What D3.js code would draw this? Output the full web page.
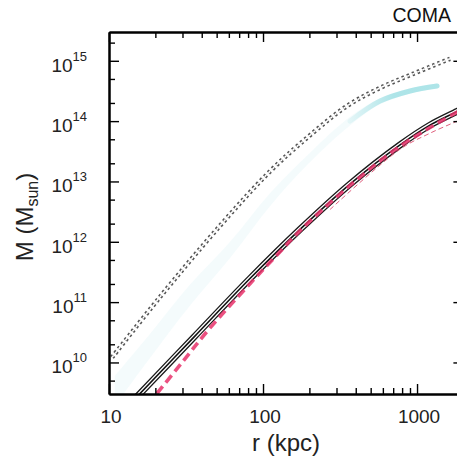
<!DOCTYPE html>
<html>
<head>
<meta charset="utf-8">
<script src="https://cdn.jsdelivr.net/npm/d3@7"></script>
<style>
  html, body { margin: 0; padding: 0; background: #fff; }
  svg { display: block; font-family: "Liberation Sans", Arial, Helvetica, sans-serif; }
</style>
</head>
<body>
<svg id="chart" width="457" height="463"></svg>
<script>
// ---- data (r in kpc, M in solar masses) ----
const xMajor = [10, 100, 1000];
const xMinor = [20, 30, 40, 50, 60, 70, 80, 90, 200, 300, 400, 500, 600, 700, 800, 900];
const yMajor = [1e10, 1e11, 1e12, 1e13, 1e14, 1e15];
const yMinor = [5e9, 2e10, 5e10, 2e11, 5e11, 2e12, 5e12, 2e13, 5e13, 2e14, 5e14, 2e15];
const xTickLabels = ["10", "100", "1000"];
const yTickExponents = ["10", "11", "12", "13", "14", "15"];

// solid model curve
const solidR = [14, 15.66, 35.6, 82.3, 174, 367, 776, 1213, 1820, 2000];
const solidM = [2.17e9, 2.93e9, 2.63e10, 2.46e11, 1.61e12, 9.05e12, 4.04e13, 8.58e13, 1.45e14, 1.65e14];

// thick red dashed curve
const redR = [18, 20.2, 30, 44, 82, 120, 174, 367, 776, 1820, 2000];
const redM = [2.03e9, 2.93e9, 1.02e10, 3.42e10, 2.0e11, 5.62e11, 1.53e12, 8.58e12, 3.83e13, 1.41e14, 1.58e14];

// thin red dashed curve
const thinRedR = [272, 776, 1213, 1820, 2000];
const thinRedM = [3.42e12, 3.42e13, 6.3e13, 1.0e14, 1.12e14];

// dotted (double) curve
const dotR = [10.46, 21.4, 52.6, 111, 202, 351, 575, 942, 1637];
const dotM = [1.21e10, 1.21e11, 1.85e12, 1.47e13, 5.84e13, 1.78e14, 3.55e14, 6.07e14, 1.08e15];

// cyan band
const cyanR  = [10.9, 18.5, 33.6, 61.1, 111, 202, 367, 575, 901, 1349];
const cyanM  = [3.42e9, 1.92e10, 1.31e11, 7.36e11, 5.01e12, 2.51e13, 1.0e14, 2.15e14, 3.16e14, 3.83e14];
const cyanLo = [1.9e9, 1.2e10, 8.8e10, 5.4e11, 3.9e12, 2.1e13, 8.5e13, 1.9e14, 2.85e14, 3.5e14];
const cyanHi = [6.0e9, 3.0e10, 1.95e11, 1.0e12, 6.4e12, 3.0e13, 1.18e14, 2.4e14, 3.5e14, 4.2e14];

// ---- layout ----
const L = 109, R = 463.4, T = 32, B = 394;
const svg = d3.select("#chart");
const x = d3.scaleLog().domain([10, 2000]).range([L, R]);
const y = d3.scaleLog().domain([3e9, 3e15]).range([B, T]);

const defs = svg.append("defs");
defs.append("clipPath").attr("id", "plotclip")
  .append("rect").attr("x", L).attr("y", T).attr("width", R - L).attr("height", B - T);
const grad = defs.append("linearGradient").attr("id", "cyanfade")
  .attr("gradientUnits", "userSpaceOnUse")
  .attr("x1", x(300)).attr("x2", x(700)).attr("y1", 0).attr("y2", 0);
grad.append("stop").attr("offset", 0).attr("stop-color", "#a6e2e6").attr("stop-opacity", 0);
grad.append("stop").attr("offset", 1).attr("stop-color", "#a6e2e6").attr("stop-opacity", 0.9);

const g = svg.append("g").attr("clip-path", "url(#plotclip)");
const zip = (a, b) => a.map((v, i) => [v, b[i]]);
const line = d3.line().x(d => x(d[0])).y(d => y(d[1])).curve(d3.curveCatmullRom.alpha(0.5));

// cyan band
const cyanBand = cyanR.map((r, i) => ({ r, lo: cyanLo[i], hi: cyanHi[i] }));
g.append("path")
  .attr("d", d3.area().x(d => x(d.r)).y0(d => y(d.lo)).y1(d => y(d.hi)).curve(d3.curveCatmullRom.alpha(0.5))(cyanBand))
  .attr("fill", "#d6f1f3").attr("opacity", 0.28);
g.append("path")
  .attr("d", line(zip(cyanR, cyanM).filter(d => d[0] >= 300)))
  .attr("fill", "none").attr("stroke", "url(#cyanfade)").attr("stroke-width", 5)
  .attr("stroke-linecap", "round");

// dotted double line
const dotPath = line(zip(dotR, dotM));
g.append("path").attr("d", dotPath).attr("fill", "none")
  .attr("stroke", "#555").attr("stroke-width", 4.6).attr("stroke-dasharray", "2.5,3");
g.append("path").attr("d", dotPath).attr("fill", "none")
  .attr("stroke", "#fff").attr("stroke-width", 1.5).attr("stroke-dasharray", "2.5,3");

// solid cased line
const solidPath = line(zip(solidR, solidM));
g.append("path").attr("d", solidPath).attr("fill", "none").attr("stroke", "#1a1a1a").attr("stroke-width", 6.8);
g.append("path").attr("d", solidPath).attr("fill", "none").attr("stroke", "#fff").attr("stroke-width", 4.2);
g.append("path").attr("d", solidPath).attr("fill", "none").attr("stroke", "#111").attr("stroke-width", 1.6);

// red dashed lines
g.append("path").attr("d", line(zip(redR, redM))).attr("fill", "none")
  .attr("stroke", "#e8336b").attr("stroke-width", 3.6).attr("stroke-dasharray", "9,5").attr("opacity", 0.85);
g.append("path").attr("d", line(zip(thinRedR, thinRedM))).attr("fill", "none")
  .attr("stroke", "#e0607e").attr("stroke-width", 1).attr("stroke-dasharray", "5,3");

// ---- axes ----
function styleAxis(sel) {
  sel.selectAll("path.domain").attr("stroke", "#000").attr("stroke-width", 2);
  sel.selectAll(".tick line").attr("stroke", "#000").attr("stroke-width", 1.4);
  sel.selectAll("text").remove();
}
[[d3.axisBottom(x), `translate(0,${B})`], [d3.axisTop(x), `translate(0,${T})`]].forEach(([ax, tr]) => {
  svg.append("g").attr("transform", tr).call(ax.tickValues(xMajor).tickSizeInner(-10).tickSizeOuter(0)).call(styleAxis);
  svg.append("g").attr("transform", tr).call(ax.tickValues(xMinor).tickSizeInner(-6).tickSizeOuter(0)).call(styleAxis);
});
[[d3.axisLeft(y), `translate(${L},0)`], [d3.axisRight(y), `translate(${R},0)`]].forEach(([ax, tr]) => {
  svg.append("g").attr("transform", tr).call(ax.tickValues(yMajor).tickSizeInner(-10).tickSizeOuter(0)).call(styleAxis);
  svg.append("g").attr("transform", tr).call(ax.tickValues(yMinor).tickSizeInner(-6).tickSizeOuter(0)).call(styleAxis);
});

// x tick labels
svg.append("g").selectAll("text").data(xMajor).join("text")
  .attr("x", d => x(d) + 2).attr("y", 423)
  .attr("text-anchor", "middle").attr("font-size", 19).attr("fill", "#222")
  .text((d, i) => xTickLabels[i]);

// y tick labels
const yl = svg.append("g").selectAll("text").data(yMajor).join("text")
  .attr("x", 87).attr("y", d => y(d) + 11)
  .attr("text-anchor", "end").attr("fill", "#222");
yl.append("tspan").attr("font-size", 19).text("10");
yl.append("tspan").attr("font-size", 13).attr("dy", -11).text((d, i) => yTickExponents[i]);

// axis titles
svg.append("text").attr("x", 286).attr("y", 451).attr("text-anchor", "middle")
  .attr("font-size", 24).attr("fill", "#222").text("r (kpc)");
const yt = svg.append("text").attr("transform", "translate(33,217) rotate(-90)")
  .attr("text-anchor", "middle").attr("font-size", 24).attr("fill", "#222");
yt.append("tspan").text("M (M");
yt.append("tspan").attr("font-size", 16).attr("dy", 5).text("sun");
yt.append("tspan").attr("dy", -5).text(")");

// panel label
svg.append("text").attr("x", 451).attr("y", 22).attr("text-anchor", "end")
  .attr("font-size", 19.5).attr("fill", "#111").text("COMA");
</script>
</body>
</html>
